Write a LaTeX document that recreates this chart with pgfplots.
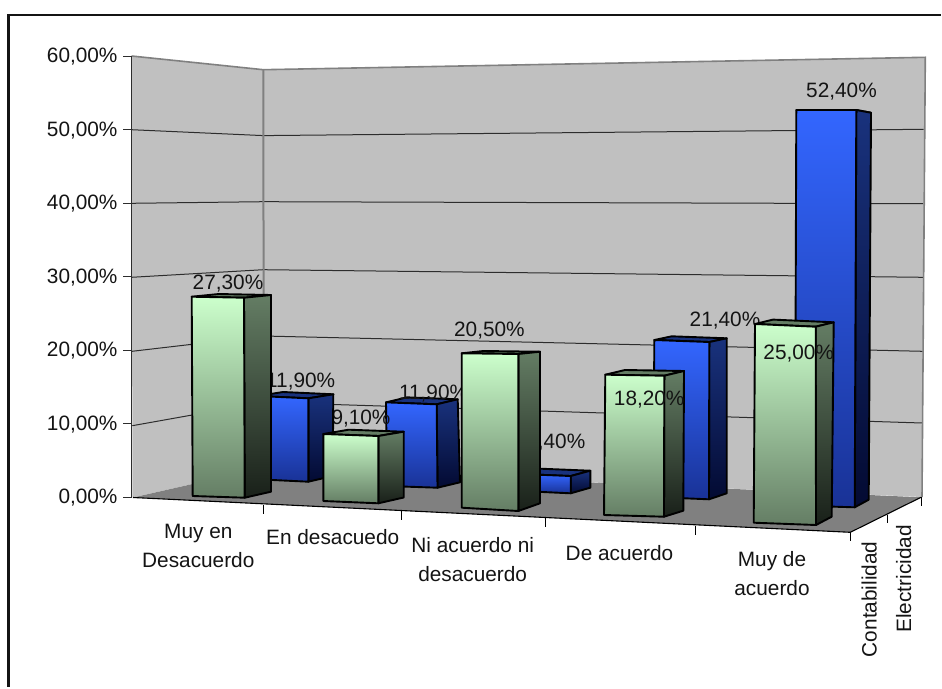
\documentclass[border=0pt]{standalone}
\usepackage{fontspec}
\setmainfont{Liberation Sans}
\usepackage{pgfplots}
\pgfplotsset{compat=1.18}
\definecolor{wallc}{RGB}{192,192,192}
\definecolor{floorc}{RGB}{128,128,128}
\definecolor{gridc}{RGB}{45,45,45}
\definecolor{GreenFT}{RGB}{204,255,204}
\definecolor{GreenFB}{RGB}{100,125,100}
\definecolor{GreenST}{RGB}{100,125,100}
\definecolor{GreenSB}{RGB}{25,32,25}
\definecolor{BlueFT}{RGB}{51,102,255}
\definecolor{BlueFB}{RGB}{25,50,150}
\definecolor{BlueST}{RGB}{25,50,125}
\definecolor{BlueSB}{RGB}{3,10,50}
\newcommand{\lab}{\fontsize{20.8}{25}\selectfont}
% horizontal positions of a bar: front left, front right, side right, at base then at top
\newcommand{\BarX}[6]{\def\xa{#1}\def\xb{#2}\def\xc{#3}\def\xA{#4}\def\xB{#5}\def\xC{#6}}
% picture height of the base at the three corners, and pixels per percentage point there
\newcommand{\BarY}[6]{\def\ya{#1}\def\yb{#2}\def\yc{#3}\def\ka{#4}\def\kb{#5}\def\kc{#6}}
% #1 series colour prefix, #2 value in percent
\newcommand{\BarV}[2]{%
  \pgfmathsetmacro\yA{\ya-#2*\ka}%
  \pgfmathsetmacro\yB{\yb-#2*\kb}%
  \pgfmathsetmacro\yC{\yc-#2*\kc}%
  \pgfmathsetmacro\xD{\xA+\xC-\xB}%
  \pgfmathsetmacro\yD{\yA+\yC-\yB}%
  \addplot[draw=black,line width=1.9pt,line join=round,fill=#1ST] coordinates {(\xA,\yA)(\xB,\yB)(\xC,\yC)(\xD,\yD)} --cycle;
  \addplot[draw=black,line width=1.9pt,line join=round,top color=#1ST,bottom color=#1SB] coordinates {(\xB,\yB)(\xC,\yC)(\xc,\yc)(\xb,\yb)} --cycle;
  \addplot[draw=black,line width=1.9pt,line join=round,top color=#1FT,bottom color=#1FB] coordinates {(\xA,\yA)(\xB,\yB)(\xb,\yb)(\xa,\ya)} --cycle;
}
\newcommand{\T}[3]{\node[font=\lab,anchor=base,inner sep=0pt,text=black!92] at (axis cs:#1,#2) {#3};}
\begin{document}
\begin{tikzpicture}
\begin{axis}[
  at={(0pt,0pt)},anchor=south west,
  x=1pt,y=1pt,xmin=0,xmax=942,ymin=0,ymax=688,y dir=reverse,
  hide axis,clip=false]
% page and frame
\addplot[draw=none,fill=white] coordinates {(0,0)(942,0)(942,688)(0,688)} --cycle;
\addplot[draw=black!92,line width=2.4pt] coordinates {(8.5,686.8)(8.5,15)(940.8,15)};
% walls
\addplot[draw=none,fill=wallc] coordinates {(131.5,56)(263.3,69.7)(263.3,468)(132.5,497.5)} --cycle;
\addplot[draw=none,fill=wallc] coordinates {(263.3,69.7)(925.3,57.3)(922,497)(263.3,468)} --cycle;
% floor
\addplot[draw=none,fill=floorc] coordinates {(133,497.5)(263.3,468)(921,497.3)(850.3,532.3)} --cycle;
% gridlines, left wall then back wall
\addplot[gridc,line width=1pt] coordinates {(131.5,129.7)(263.3,135.6)(923.5,129.3)};
\addplot[gridc,line width=1pt] coordinates {(131.5,203.3)(263.3,201.7)(923.2,203.7)};
\addplot[gridc,line width=1pt] coordinates {(131.5,277.3)(263.3,269.7)(923,277.3)};
\addplot[gridc,line width=1pt] coordinates {(132,351.3)(263.3,336)(922.6,351.3)};
\addplot[gridc,line width=1pt] coordinates {(132.3,425.7)(263.3,402.3)(922.3,423)};
% wall edges
\addplot[floorc,line width=1.6pt] coordinates {(131.5,56)(263.3,69.7)(925.3,57.3)(922,497)};
\addplot[floorc,line width=2pt] coordinates {(263.3,69.7)(263.6,300)};
% floor edges and ticks
\addplot[black,line width=1.1pt] coordinates {(133,497.5)(850.3,532.3)(921,497.3)};
\addplot[black,line width=0.9pt] coordinates {(263.7,505)(263.7,513.5)};
\addplot[black,line width=0.9pt] coordinates {(401.3,511)(401.3,519.5)};
\addplot[black,line width=0.9pt] coordinates {(545.3,518)(545.3,526.7)};
\addplot[black,line width=0.9pt] coordinates {(695.3,525.7)(695.3,534.7)};
\addplot[black,line width=0.9pt] coordinates {(850.3,532.3)(850.3,541)};
\addplot[black,line width=0.9pt] coordinates {(887.7,514.5)(887.7,523)};
\addplot[black,line width=0.9pt] coordinates {(921,497.3)(921,505.7)};

% --- Electricidad, far row ---
\BarX{795}{854.7}{868.7}{796.3}{856.3}{871}
\BarY{505.5}{507.3}{499.7}{7.548}{7.582}{7.385}
\BarV{Blue}{52.4}
\T{841.5}{97.5}{52,40\%}
\BarX{653.5}{709}{726.7}{654.3}{709.3}{726.7}
\BarY{497}{499.3}{493.3}{7.336}{7.35}{7.243}
\BarV{Blue}{21.4}
\T{725}{326.5}{21,40\%}
\BarX{521}{570.7}{590.3}{521}{570.7}{590.3}
\BarY{491}{493.3}{487.7}{7.08}{7.2}{7.08}
\BarV{Blue}{2.4}
\T{555.8}{448.2}{2,40\%}
\BarX{387}{437.5}{460}{386}{436.7}{457.7}
\BarY{486}{487.7}{482.3}{7.03}{7.008}{6.975}
\BarV{Blue}{11.9}
\T{433.6}{399.2}{11,90\%}

% --- Contabilidad, near row ---
\BarX{753.7}{816}{831.7}{755}{815.7}{833.7}
\BarY{522.7}{525}{516.7}{7.948}{7.932}{7.776}
\BarV{Green}{25}
\T{798.7}{359.8}{25,00\%}
\BarX{604}{664}{683.3}{605.3}{664.3}{684}
\BarY{515}{516.7}{510.7}{7.709}{7.747}{7.676}
\BarV{Green}{18.2}
\T{649.2}{405.8}{18,20\%}
\BarX{461.7}{518.3}{540}{461.7}{518.3}{540}
\BarY{507.7}{511}{503.3}{7.532}{7.659}{7.395}
\BarV{Green}{20.5}
\T{489.4}{336.5}{20,50\%}
\T{361}{424.8}{9,10\%}
\BarX{258}{308.3}{332.7}{258}{308.3}{333.3}
\BarY{479.3}{481.7}{476}{7}{7.008}{6.866}
\BarV{Blue}{11.9}
\T{300.7}{387.2}{11,90\%}
\BarX{323.3}{378.3}{403.7}{323.3}{378.3}{403.7}
\BarY{501}{503.3}{497.5}{7.363}{7.396}{7.231}
\BarV{Green}{9.1}
\BarX{192.7}{244.7}{271}{191.7}{244}{271}
\BarY{496}{497.7}{491.7}{7.3}{7.326}{7.205}
\BarV{Green}{27.3}
\T{228}{289.5}{27,30\%}

% category labels
\T{198.3}{538.5}{Muy en}
\T{198.3}{567.5}{Desacuerdo}
\T{332.7}{544}{En desacuedo}
\T{472.7}{552.5}{Ni acuerdo ni}
\T{472.7}{581.5}{desacuerdo}
\T{619.5}{560.5}{De acuerdo}
\T{772}{566.5}{Muy de}
\T{772}{595.5}{acuerdo}
\node[font=\lab,rotate=90,inner sep=0pt,text=black!92] at (axis cs:869.3,599.3) {Contabilidad};
\node[font=\lab,rotate=90,inner sep=0pt,text=black!92] at (axis cs:903.7,579) {Electricidad};
\end{axis}
% value axis
\begin{axis}[
  at={(131.5pt,190.5pt)},anchor=south west,
  x=1pt,y=7.358pt,xmin=0,xmax=10,ymin=0,ymax=60,
  axis y line=left,axis x line=none,
  axis line style={-,draw=gridc,line width=1pt},
  ytick={0,10,20,30,40,50,60},
  tick style={draw=gridc,line width=1pt},
  tick align=outside,major tick length=8pt,
  /pgf/number format/.cd,fixed,fixed zerofill,precision=2,use comma,assume math mode=true,
  /pgfplots/.cd,
  yticklabel={\pgfmathprintnumber{\tick}\%},
  yticklabel style={font=\lab,inner sep=0pt,xshift=-5.8pt,yshift=-0.5pt,text=black!92}]
\addplot[draw=none] coordinates {(0,0)(10,60)};
\end{axis}
\end{tikzpicture}
\end{document}
